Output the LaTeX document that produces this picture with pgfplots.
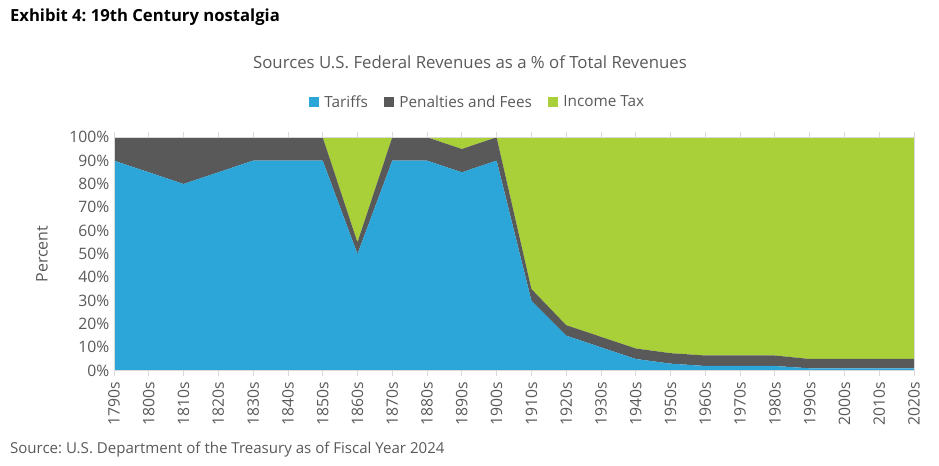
\documentclass[border=0pt]{standalone}
\usepackage{pgfplots}
\pgfplotsset{compat=1.18}
\usepackage{pgfplotstable}
\usepackage{fontspec}
\setmainfont{Open Sans}
\frenchspacing
\definecolor{tarblue}{HTML}{2CA5D8}
\definecolor{pengray}{HTML}{595959}
\definecolor{incgreen}{HTML}{A9D039}
\definecolor{txtgray}{HTML}{595959}
\definecolor{axgray}{HTML}{D9D9D9}

% share of total revenue, %
\pgfplotstableread{
x  tar  pen  inc
0  90   10   0
1  85   15   0
2  80   20   0
3  85   15   0
4  90   10   0
5  90   10   0
6  90   10   0
7  50   5    45
8  90   10   0
9  90   10   0
10 85   10   5
11 90   10   0
12 30   5    65
13 15   4.5  80.5
14 10   4.5  85.5
15 5    4.5  90.5
16 3    4.5  92.5
17 2    4.5  93.5
18 2    4.5  93.5
19 2    4.5  93.5
20 1    4    95
21 1    4    95
22 1    4    95
23 1    4    95
}\rev

\begin{document}
\begin{tikzpicture}
\path[use as bounding box] (0,0) rectangle (704.25pt,349.5pt);
\node[anchor=west, font=\bfseries\fontsize{12.5}{14}\selectfont] at (4pt,336.5pt) {Exhibit 4: 19th Century nostalgia};
\node[font=\fontsize{12.6}{14}\selectfont, text=txtgray] at (352.5pt,303pt) {Sources U.S. Federal Revenues as a \% of Total Revenues};
\node[anchor=west, font=\fontsize{11.3}{13}\selectfont, text=txtgray] at (4pt,12pt) {Source: U.S. Department of the Treasury as of Fiscal Year 2024};
\begin{axis}[
    at={(85.5pt,71.5pt)}, anchor=south west,
    scale only axis, width=600pt, height=175pt,
    xmin=0, xmax=23, ymin=0, ymax=100,
    stack plots=y, area style,
    xtick=data,
    xticklabels={1790s,1800s,1810s,1820s,1830s,1840s,1850s,1860s,1870s,1880s,1890s,1900s,1910s,1920s,1930s,1940s,1950s,1960s,1970s,1980s,1990s,2000s,2010s,2020s},
    x tick label style={rotate=90, anchor=east, xshift=-1pt},
    ytick={0,10,...,100},
    yticklabel={\pgfmathprintnumber{\tick}\%},
    /pgf/number format/assume math mode=true,
    tick label style={font=\fontsize{11.8}{13}\selectfont, text=txtgray},
    xtick align=outside, ytick style={draw=none},
    major tick length=4pt,
    tick style={axgray, line width=0.6pt},
    axis line style={axgray, line width=0.6pt},
    ylabel={Percent},
    ylabel style={font=\fontsize{12}{14}\selectfont, text=txtgray, at={(rel axis cs:-0.09,0.5)}, anchor=center},
    legend columns=3,
    legend style={draw=none, fill=none, at={(rel axis cs:0.455,1.15)}, anchor=center,
        font=\fontsize{11.5}{13}\selectfont, text=txtgray,
        /tikz/every odd column/.append style={column sep=2pt},
        /tikz/every even column/.append style={column sep=10pt}},
    legend image code/.code={\fill[#1] (0pt,-3.75pt) rectangle (7.5pt,3.75pt);},
]
\addplot[fill=tarblue, draw=none] table[x=x, y=tar]{\rev} \closedcycle;
\addplot[fill=pengray, draw=none] table[x=x, y=pen]{\rev} \closedcycle;
\addplot[fill=incgreen, draw=none] table[x=x, y=inc]{\rev} \closedcycle;
\legend{Tariffs, Penalties and Fees, Income Tax}
\end{axis}
\end{tikzpicture}
\end{document}
